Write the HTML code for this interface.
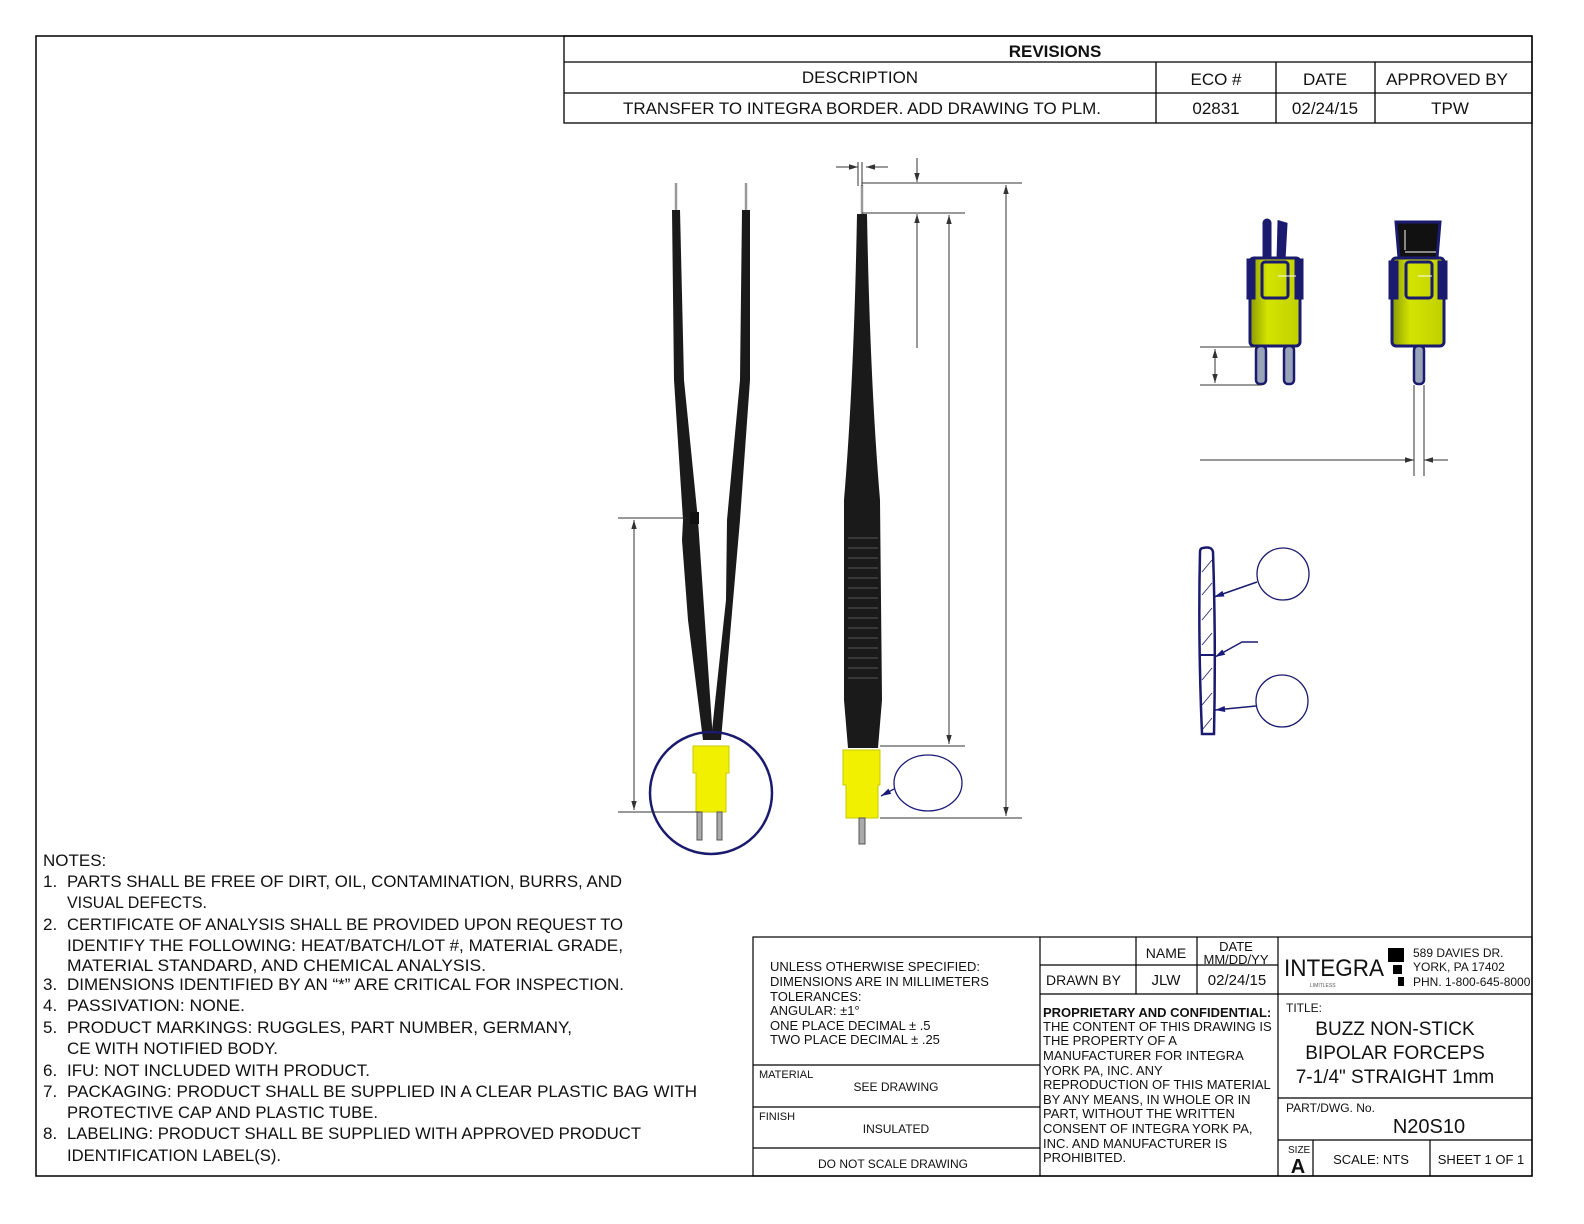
<!DOCTYPE html>
<html><head><meta charset="utf-8"><style>
html,body{margin:0;padding:0;background:#fff;overflow:hidden;width:1584px;height:1224px;}
svg{display:block;position:absolute;left:0;top:0;font-family:"Liberation Sans",sans-serif;}
</style></head><body>
<svg width="1584" height="1224" viewBox="0 0 1584 1224" xmlns="http://www.w3.org/2000/svg">
<defs>
<marker id="ar" viewBox="0 0 10 10" refX="10" refY="5" markerWidth="9" markerHeight="9" orient="auto-start-reverse" markerUnits="userSpaceOnUse"><path d="M0,2 L10,5 L0,8 z" fill="#333"/></marker>
<marker id="ab" viewBox="0 0 10 10" refX="10" refY="5" markerWidth="12" markerHeight="10" orient="auto" markerUnits="userSpaceOnUse"><path d="M0,2 L10,5 L0,8 z" fill="#1a1a7a"/></marker>
<linearGradient id="yg" x1="0" x2="1"><stop offset="0" stop-color="#8a9a00"/><stop offset="0.35" stop-color="#d4e400"/><stop offset="1" stop-color="#c0d000"/></linearGradient>
</defs>
<rect x="36" y="36" width="1496" height="1140" fill="none" stroke="#000" stroke-width="1.5"/>

<!-- Revisions -->
<g stroke="#000" stroke-width="1.3" fill="none">
<rect x="564" y="36" width="968" height="87"/>
<line x1="564" y1="62" x2="1532" y2="62"/>
<line x1="564" y1="93" x2="1532" y2="93"/>
<line x1="1156" y1="62" x2="1156" y2="123"/>
<line x1="1276" y1="62" x2="1276" y2="123"/>
<line x1="1375" y1="62" x2="1375" y2="123"/>
</g>
<g font-size="17" text-anchor="middle" fill="#111">
<text x="1055" y="57" font-weight="bold">REVISIONS</text>
<text x="860" y="83">DESCRIPTION</text>
<text x="1216" y="85">ECO #</text>
<text x="1325" y="85">DATE</text>
<text x="1447" y="85">APPROVED BY</text>
<text x="862" y="114" textLength="478" lengthAdjust="spacingAndGlyphs">TRANSFER TO INTEGRA BORDER. ADD DRAWING TO PLM.</text>
<text x="1216" y="114">02831</text>
<text x="1325" y="114">02/24/15</text>
<text x="1450" y="114">TPW</text>
</g>

<!-- Left forceps (front) -->
<g>
<line x1="676" y1="183" x2="676" y2="210" stroke="#999" stroke-width="2.5"/>
<line x1="746" y1="183" x2="746" y2="210" stroke="#999" stroke-width="2.5"/>
<path d="M672,210 L680,210 L684,380 L698,520 L713,740 L703,740 L688,620 L682,540 L683,520 L674,380 Z" fill="#1a1a1a"/>
<path d="M742,210 L750,210 L750,380 L740,520 L721,740 L711,740 L726,600 L727,520 L740,380 Z" fill="#1a1a1a"/>
<rect x="690" y="512" width="9" height="12" fill="#111"/>
<path d="M693,746 L729,746 L729,773 L726,773 L726,812 L696,812 L696,773 L693,773z" fill="#f0f000" stroke="#c8c800" stroke-width="1"/>
<rect x="697" y="812" width="5" height="28" fill="#aaa" stroke="#555" stroke-width="1"/>
<rect x="717" y="812" width="5" height="28" fill="#aaa" stroke="#555" stroke-width="1"/>
<ellipse cx="711" cy="793" rx="61" ry="61" fill="none" stroke="#1a1a6e" stroke-width="2.5"/>
</g>
<g stroke="#333" stroke-width="1" fill="none">
<line x1="618" y1="518" x2="686" y2="518"/>
<line x1="618" y1="812" x2="700" y2="812"/>
<line x1="634" y1="520" x2="634" y2="810" marker-start="url(#ar)" marker-end="url(#ar)"/>
</g>

<!-- Side forceps -->
<g>
<line x1="862" y1="185" x2="862" y2="214" stroke="#999" stroke-width="2.5"/>
<path d="M857,214 L867,214 Q870,380 880,500 L882,700 L878,748 L848,748 L844,700 L844,500 Q854,380 857,214z" fill="#1a1a1a"/>
<g stroke="#555" stroke-width="1">
<line x1="848" y1="538" x2="878" y2="538"/><line x1="848" y1="548" x2="878" y2="548"/><line x1="848" y1="558" x2="878" y2="558"/><line x1="848" y1="568" x2="878" y2="568"/><line x1="848" y1="578" x2="878" y2="578"/><line x1="848" y1="588" x2="878" y2="588"/><line x1="848" y1="598" x2="878" y2="598"/><line x1="848" y1="608" x2="878" y2="608"/><line x1="848" y1="618" x2="878" y2="618"/><line x1="848" y1="628" x2="878" y2="628"/><line x1="848" y1="638" x2="878" y2="638"/><line x1="848" y1="648" x2="878" y2="648"/><line x1="848" y1="658" x2="878" y2="658"/><line x1="848" y1="668" x2="878" y2="668"/><line x1="848" y1="678" x2="878" y2="678"/>
</g>
<path d="M843,750 L880,750 L880,785 L878,785 L878,818 L846,818 L846,785 L843,785z" fill="#f0f000" stroke="#c8c800" stroke-width="1"/>
<rect x="859" y="818" width="6" height="26" fill="#aaa" stroke="#555" stroke-width="1"/>
<ellipse cx="928" cy="783" rx="34" ry="28" fill="none" stroke="#1a1a7a" stroke-width="1.3"/>
<line x1="894" y1="789" x2="881" y2="796" stroke="#1a1a7a" stroke-width="1.3" marker-end="url(#ab)"/>
</g>
<g stroke="#333" stroke-width="1" fill="none">
<line x1="836" y1="167" x2="858" y2="167" marker-end="url(#ar)"/>
<line x1="888" y1="167" x2="866" y2="167" marker-end="url(#ar)"/>
<line x1="858" y1="162" x2="858" y2="186"/>
<line x1="862" y1="162" x2="862" y2="186"/>
<line x1="862" y1="183" x2="1022" y2="183"/>
<line x1="862" y1="213" x2="965" y2="213"/>
<line x1="880" y1="746" x2="965" y2="746"/>
<line x1="880" y1="818" x2="1022" y2="818"/>
<line x1="917" y1="158" x2="917" y2="182" marker-end="url(#ar)"/>
<line x1="917" y1="348" x2="917" y2="214" marker-end="url(#ar)"/>
<line x1="949" y1="215" x2="949" y2="744" marker-start="url(#ar)" marker-end="url(#ar)"/>
<line x1="1006" y1="185" x2="1006" y2="816" marker-start="url(#ar)" marker-end="url(#ar)"/>
</g>

<!-- Connector view 1 -->
<g stroke="#1a1a6e" stroke-width="3">
<rect x="1264" y="220" width="6" height="40" rx="3" fill="#1a1a6e"/>
<path d="M1279,222 L1286,224 L1284,260 L1278,260z" fill="#1a1a6e"/>
<rect x="1250" y="258" width="50" height="88" rx="4" fill="url(#yg)"/>
<rect x="1248" y="260" width="6" height="38" fill="#1a1a6e"/>
<rect x="1296" y="260" width="6" height="38" fill="#1a1a6e"/>
<rect x="1262" y="262" width="26" height="36" rx="3" fill="none"/>
<rect x="1256" y="346" width="10" height="38" rx="4" fill="#9aa4b8" stroke-width="2.5"/>
<rect x="1284" y="346" width="10" height="38" rx="4" fill="#9aa4b8" stroke-width="2.5"/>
</g>
<line x1="1278" y1="276" x2="1296" y2="276" stroke="#fff" stroke-width="1"/>
<!-- Connector view 2 -->
<g stroke="#1a1a6e" stroke-width="3">
<path d="M1396,222 L1440,222 L1437,258 L1399,258z" fill="#111"/>
<rect x="1392" y="258" width="52" height="88" rx="4" fill="url(#yg)"/>
<rect x="1390" y="262" width="7" height="36" fill="#1a1a6e"/>
<rect x="1439" y="262" width="7" height="36" fill="#1a1a6e"/>
<rect x="1406" y="262" width="26" height="36" rx="3" fill="none"/>
<rect x="1414" y="346" width="10" height="38" rx="4" fill="#9aa4b8" stroke-width="2.5"/>
</g>
<line x1="1405" y1="230" x2="1405" y2="250" stroke="#fff" stroke-width="1"/>
<line x1="1405" y1="252" x2="1436" y2="252" stroke="#fff" stroke-width="1"/>
<line x1="1418" y1="276" x2="1432" y2="276" stroke="#fff" stroke-width="1"/>
<g stroke="#333" stroke-width="1" fill="none">
<line x1="1200" y1="347" x2="1256" y2="347"/>
<line x1="1200" y1="385" x2="1262" y2="385"/>
<line x1="1215" y1="349" x2="1215" y2="383" marker-start="url(#ar)" marker-end="url(#ar)"/>
<line x1="1414" y1="385" x2="1414" y2="476"/>
<line x1="1424" y1="385" x2="1424" y2="476"/>
<line x1="1200" y1="460" x2="1414" y2="460" marker-end="url(#ar)"/>
<line x1="1448" y1="460" x2="1424" y2="460" marker-end="url(#ar)"/>
</g>

<!-- Section view -->
<g stroke="#1a1a6e" fill="none">
<path d="M1203,548 Q1212,546 1213,552 Q1216,640 1214,734 L1202,734 Q1198,640 1200,552 Q1200,548 1203,548z" stroke-width="2.5" fill="#fff"/>
<line x1="1200" y1="655" x2="1214" y2="655" stroke-width="2"/>
<g stroke-width="0.8"><line x1="1202" y1="572" x2="1212" y2="560"/><line x1="1202" y1="595" x2="1212" y2="583"/><line x1="1202" y1="620" x2="1212" y2="608"/><line x1="1202" y1="645" x2="1212" y2="633"/><line x1="1202" y1="680" x2="1212" y2="668"/><line x1="1202" y1="705" x2="1212" y2="693"/><line x1="1202" y1="730" x2="1212" y2="718"/></g>
<circle cx="1283" cy="574" r="26" stroke-width="1.3"/>
<circle cx="1282" cy="701" r="26" stroke-width="1.3"/>
<line x1="1257" y1="582" x2="1214" y2="597" stroke-width="1.5" marker-end="url(#ab)"/>
<polyline points="1258,642 1242,642 1215,657" stroke-width="1.5" marker-end="url(#ab)"/>
<line x1="1256" y1="706" x2="1215" y2="710" stroke-width="1.5" marker-end="url(#ab)"/>
</g>

<!-- Notes -->
<g font-size="17" fill="#111">
<text x="43" y="866">NOTES:</text>
<text x="43" y="887">1.</text><text x="67" y="887" textLength="555" lengthAdjust="spacingAndGlyphs">PARTS SHALL BE FREE OF DIRT, OIL, CONTAMINATION, BURRS, AND</text>
<text x="67" y="908" textLength="140" lengthAdjust="spacingAndGlyphs">VISUAL DEFECTS.</text>
<text x="43" y="930">2.</text><text x="67" y="930" textLength="556" lengthAdjust="spacingAndGlyphs">CERTIFICATE OF ANALYSIS SHALL BE PROVIDED UPON REQUEST TO</text>
<text x="67" y="951" textLength="556" lengthAdjust="spacingAndGlyphs">IDENTIFY THE FOLLOWING: HEAT/BATCH/LOT #, MATERIAL GRADE,</text>
<text x="67" y="971" textLength="419" lengthAdjust="spacingAndGlyphs">MATERIAL STANDARD, AND CHEMICAL ANALYSIS.</text>
<text x="43" y="990">3.</text><text x="67" y="990" textLength="557" lengthAdjust="spacingAndGlyphs">DIMENSIONS IDENTIFIED BY AN “*” ARE CRITICAL FOR INSPECTION.</text>
<text x="43" y="1011">4.</text><text x="67" y="1011" textLength="178" lengthAdjust="spacingAndGlyphs">PASSIVATION: NONE.</text>
<text x="43" y="1033">5.</text><text x="67" y="1033" textLength="505" lengthAdjust="spacingAndGlyphs">PRODUCT MARKINGS: RUGGLES, PART NUMBER, GERMANY,</text>
<text x="67" y="1054" textLength="211" lengthAdjust="spacingAndGlyphs">CE WITH NOTIFIED BODY.</text>
<text x="43" y="1076">6.</text><text x="67" y="1076" textLength="303" lengthAdjust="spacingAndGlyphs">IFU: NOT INCLUDED WITH PRODUCT.</text>
<text x="43" y="1097">7.</text><text x="67" y="1097" textLength="630" lengthAdjust="spacingAndGlyphs">PACKAGING: PRODUCT SHALL BE SUPPLIED IN A CLEAR PLASTIC BAG WITH</text>
<text x="67" y="1118" textLength="311" lengthAdjust="spacingAndGlyphs">PROTECTIVE CAP AND PLASTIC TUBE.</text>
<text x="43" y="1139">8.</text><text x="67" y="1139" textLength="574" lengthAdjust="spacingAndGlyphs">LABELING: PRODUCT SHALL BE SUPPLIED WITH APPROVED PRODUCT</text>
<text x="67" y="1161" textLength="214" lengthAdjust="spacingAndGlyphs">IDENTIFICATION LABEL(S).</text>
</g>

<!-- Title block -->
<g stroke="#000" stroke-width="1.2" fill="none">
<rect x="753" y="937" width="779" height="239"/>
<line x1="1040" y1="937" x2="1040" y2="1176"/>
<line x1="1278" y1="937" x2="1278" y2="1176"/>
<line x1="753" y1="1065" x2="1040" y2="1065"/>
<line x1="753" y1="1107" x2="1040" y2="1107"/>
<line x1="753" y1="1148" x2="1040" y2="1148"/>
<line x1="1040" y1="965" x2="1278" y2="965"/>
<line x1="1040" y1="994" x2="1278" y2="994"/>
<line x1="1136" y1="937" x2="1136" y2="994"/>
<line x1="1197" y1="937" x2="1197" y2="994"/>
<line x1="1278" y1="994" x2="1532" y2="994"/>
<line x1="1278" y1="1098" x2="1532" y2="1098"/>
<line x1="1278" y1="1140" x2="1532" y2="1140"/>
<line x1="1313" y1="1140" x2="1313" y2="1176"/>
<line x1="1430" y1="1140" x2="1430" y2="1176"/>
</g>
<g font-size="13" fill="#111">
<text x="770" y="971">UNLESS OTHERWISE SPECIFIED:</text>
<text x="770" y="986">DIMENSIONS ARE IN MILLIMETERS</text>
<text x="770" y="1001">TOLERANCES:</text>
<text x="770" y="1015">ANGULAR: ±1°</text>
<text x="770" y="1030">ONE PLACE DECIMAL ± .5</text>
<text x="770" y="1044">TWO PLACE DECIMAL ± .25</text>
<text x="759" y="1078" font-size="11">MATERIAL</text>
<text x="896" y="1091" font-size="12" text-anchor="middle">SEE DRAWING</text>
<text x="759" y="1120" font-size="11">FINISH</text>
<text x="896" y="1133" font-size="12" text-anchor="middle">INSULATED</text>
<text x="893" y="1168" font-size="12" text-anchor="middle">DO NOT SCALE DRAWING</text>
<text x="1166" y="958" font-size="14" text-anchor="middle">NAME</text>
<text x="1236" y="951" font-size="13" text-anchor="middle">DATE</text>
<text x="1236" y="964" font-size="13" text-anchor="middle">MM/DD/YY</text>
<text x="1046" y="985" font-size="14">DRAWN BY</text>
<text x="1166" y="985" font-size="15" text-anchor="middle">JLW</text>
<text x="1237" y="985" font-size="15" text-anchor="middle">02/24/15</text>
<text x="1043" y="1017" font-weight="bold">PROPRIETARY AND CONFIDENTIAL:</text>
<text x="1043" y="1031">THE CONTENT OF THIS DRAWING IS</text>
<text x="1043" y="1045">THE PROPERTY OF A</text>
<text x="1043" y="1060">MANUFACTURER FOR INTEGRA</text>
<text x="1043" y="1075">YORK PA, INC. ANY</text>
<text x="1043" y="1089">REPRODUCTION OF THIS MATERIAL</text>
<text x="1043" y="1104">BY ANY MEANS, IN WHOLE OR IN</text>
<text x="1043" y="1118">PART, WITHOUT THE WRITTEN</text>
<text x="1043" y="1133">CONSENT OF INTEGRA YORK PA,</text>
<text x="1043" y="1148">INC. AND MANUFACTURER IS</text>
<text x="1043" y="1162">PROHIBITED.</text>
<text x="1284" y="976" font-size="24" textLength="100" lengthAdjust="spacingAndGlyphs">INTEGRA</text>
<text x="1310" y="987" font-size="5" fill="#555">LIMITLESS</text>
<text x="1413" y="957" font-size="12">589 DAVIES DR.</text>
<text x="1413" y="971" font-size="12">YORK, PA 17402</text>
<text x="1413" y="986" font-size="12">PHN. 1-800-645-8000</text>
<text x="1286" y="1012" font-size="12">TITLE:</text>
<text x="1395" y="1035" font-size="19" text-anchor="middle">BUZZ NON-STICK</text>
<text x="1395" y="1059" font-size="19" text-anchor="middle">BIPOLAR FORCEPS</text>
<text x="1395" y="1083" font-size="19" text-anchor="middle">7-1/4" STRAIGHT 1mm</text>
<text x="1286" y="1112" font-size="12">PART/DWG. No.</text>
<text x="1429" y="1133" font-size="20" text-anchor="middle">N20S10</text>
<text x="1288" y="1153" font-size="10">SIZE</text>
<text x="1298" y="1173" font-size="20" font-weight="bold" text-anchor="middle">A</text>
<text x="1371" y="1164" font-size="13" text-anchor="middle">SCALE: NTS</text>
<text x="1481" y="1164" font-size="13" text-anchor="middle">SHEET 1 OF 1</text>
</g>
<rect x="1388" y="948" width="16" height="14" fill="#000"/>
<rect x="1393" y="965" width="9" height="9" fill="#000"/>
<rect x="1398" y="977" width="6" height="9" fill="#000"/>
</svg>
</body></html>
